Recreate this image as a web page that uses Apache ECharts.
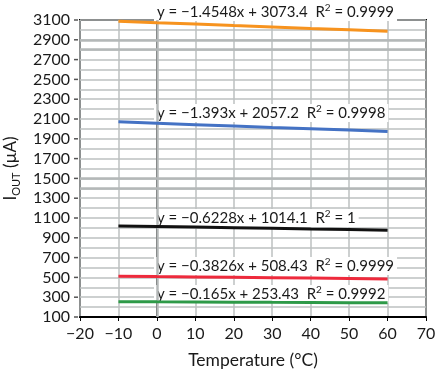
<!DOCTYPE html>
<html><head><meta charset="utf-8">
<script src="https://cdn.jsdelivr.net/npm/echarts@6/dist/echarts.min.js"></script>
<style>html,body{margin:0;padding:0;background:#fff}#c{width:437px;height:372px}</style>
</head><body><div id="c"></div>
<script>
const temps = [-10, 0, 10, 20, 30, 40, 50, 60];
const orangeVals = [3088, 3073, 3059, 3044, 3030, 3015, 3001, 2986];
const blueVals   = [2071, 2057, 2043, 2029, 2015, 2002, 1988, 1974];
const blackVals  = [1020, 1014, 1008, 1002, 996, 989, 983, 977];
const redVals    = [512, 508, 505, 501, 497, 493, 489, 485];
const greenVals  = [255, 253, 252, 250, 248, 247, 245, 243];
const eqLabels = [
  ['y = \u22121.4548x + 3073.4  R', '0.9999'],
  ['y = \u22121.393x + 2057.2  R', '0.9998'],
  ['y = \u22120.6228x + 1014.1  R', '1'],
  ['y = \u22120.3826x + 508.43  R', '0.9999'],
  ['y = \u22120.165x + 253.43  R', '0.9992']
];
const labelCenters = [12, 113, 218, 266, 294];
const xTicks = {min: -20, max: 70, interval: 10};
const yTicks = {min: 100, max: 3100, interval: 100, labelStep: 200};

const FONT = 'Lato';
const TXT = '#1a1a1a';
function pairs(vals){ return temps.map((t,i)=>[t, vals[i]]); }
function mk(name, vals, color){
  return {name, type:'line', data: pairs(vals), symbol:'none', lineStyle:{color, width:3}, z:10, animation:false};
}
const chart = echarts.init(document.getElementById('c'), null, {renderer:'canvas'});
const graphics = eqLabels.map((l, i) => ({
  type:'text', left:154, top: labelCenters[i]-9, z:5,
  style:{
    text: '{a|' + l[0] + '}{s|2}{a| = ' + l[1] + '}',
    backgroundColor:'#fff', padding:[1,3,1,3],
    rich:{
      a:{fontFamily:FONT, fontSize:15, fill:TXT, lineHeight:16, verticalAlign:'bottom'},
      s:{fontFamily:FONT, fontSize:10, fill:TXT, lineHeight:16, verticalAlign:'bottom', padding:[0,0,7,0]}
    }
  }
}));
chart.setOption({
  animation:false,
  grid:{left:80, right:11, top:20, bottom:55, outerBoundsMode:'none', containLabel:false,
    show:true, borderColor:'#000', borderWidth:2, backgroundColor:'transparent'},
  xAxis:{type:'value', min:xTicks.min, max:xTicks.max, interval:xTicks.interval,
    name:'Temperature (\u00b0C)', nameLocation:'middle', nameGap:34,
    nameTextStyle:{fontFamily:FONT, fontSize:17.5, color:TXT},
    axisLine:{lineStyle:{color:'#000', width:2}},
    axisTick:{show:true, length:4, lineStyle:{color:'#000'}},
    axisLabel:{fontFamily:FONT, fontSize:16, color:TXT, margin:9, formatter:v=>String(v).replace('-','\u2212')},
    splitLine:{show:true, lineStyle:{color:'#bcc0c0', width:1.5}}
  },
  yAxis:{type:'value', min:yTicks.min, max:yTicks.max, interval:yTicks.interval,
    name:'{i|I}{sub|OUT}{i| (\u00b5A)}', nameLocation:'middle', nameGap:60, nameRotate:90,
    nameTextStyle:{rich:{
      i:{fontFamily:FONT, fontSize:17, color:TXT, verticalAlign:'bottom', lineHeight:20},
      sub:{fontFamily:FONT, fontSize:11, color:TXT, verticalAlign:'bottom', lineHeight:20, padding:[0,0,-3,0]}
    }},
    axisLine:{lineStyle:{color:'#000', width:2}},
    axisTick:{show:false},
    axisLabel:{fontFamily:FONT, fontSize:16, color:TXT, margin:2,
      formatter:v=> ((v - yTicks.min) % yTicks.labelStep === 0) ? '{t|' + v + '}{g|}{d|}' : '',
      rich:{
        t:{fontFamily:FONT, fontSize:16, color:TXT},
        g:{width:4, height:2},
        d:{width:4, height:1.5, backgroundColor:'#555'}
      }},
    splitLine:{show:true, lineStyle:{color:'#bcc0c0', width:1.5}}
  },
  graphic: graphics,
  series:[
    mk('orange', orangeVals, '#f7931e'),
    mk('blue', blueVals, '#4472c4'),
    mk('black', blackVals, '#111111'),
    mk('red', redVals, '#ee2a3c'),
    mk('green', greenVals, '#2e9a48'),
    {type:'line', data:[], markLine:{silent:true, symbol:'none', label:{show:false},
      lineStyle:{color:'#b4b8b8', width:2.5, type:'solid'},
      data:[{xAxis:0},{yAxis:2900},{yAxis:2800},{yAxis:1500},{yAxis:1400}]}, z:2}
  ]
});
</script></body></html>
